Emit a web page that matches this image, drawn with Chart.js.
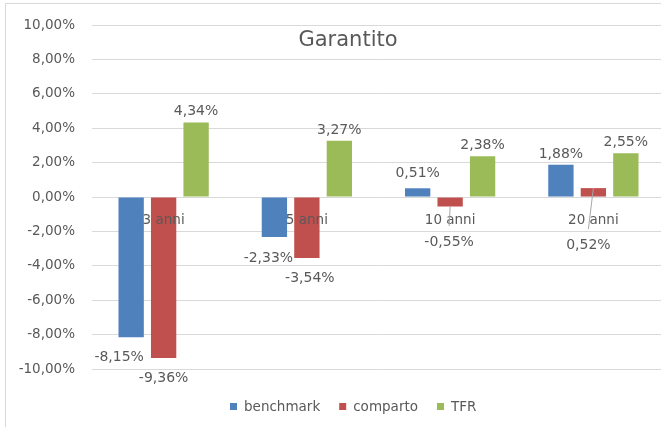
<!DOCTYPE html>
<html>
<head>
<meta charset="utf-8">
<script src="https://cdn.jsdelivr.net/npm/chart.js@4.4.1/dist/chart.umd.min.js"></script>
<style>
  html, body { margin: 0; padding: 0; background: #fff; overflow: hidden; }
  .wrap { position: relative; width: 661px; height: 427px; overflow: hidden; }
  .frame { position: absolute; left: 5px; top: 3px; width: 700px; height: 500px;
           border-left: 1px solid #d9d9d9; border-top: 1px solid #d9d9d9; }
  canvas { position: absolute; left: 0; top: 0; }
</style>
</head>
<body>
<div class="wrap">
  <div class="frame"></div>
  <canvas id="chart" width="665" height="427"></canvas>
</div>
<script>
const categories = ['3 anni', '5 anni', '10 anni', '20 anni'];
const benchmark = [-8.15, -2.33, 0.51, 1.88];
const comparto = [-9.36, -3.54, -0.55, 0.52];
const tfr = [4.34, 3.27, 2.38, 2.55];
const yTicks = [-10, -8, -6, -4, -2, 0, 2, 4, 6, 8, 10];

const seriesNames = ['benchmark', 'comparto', 'TFR'];
const seriesColors = ['#4f81bd', '#c0504d', '#9bbb59'];

const fmt = v => v.toFixed(2).replace('.', ',') + '%';
const FONT = '"DejaVu Sans", sans-serif';

// labels that were dragged around in the original sheet: [dataset][index] -> [dx, dy]
const labelShift = {
  0: { 0: [-12, 0], 1: [-6, 0.5], 2: [0, -4] },
  1: { 1: [3, 0], 2: [-1, 15.5], 3: [-5, 68] }
};
const leaders = { 1: [2, 3] };

const extras = {
  id: 'extras',
  afterDatasetsDraw(chart) {
    const ctx = chart.ctx;
    const xs = chart.scales.x;
    const ys = chart.scales.y;
    ctx.save();
    ctx.fillStyle = '#595959';

    // title
    ctx.textAlign = 'center';
    ctx.textBaseline = 'alphabetic';
    ctx.font = '21px ' + FONT;
    ctx.fillText('Garantito', 348, 46);

    // category names sit on the zero line
    ctx.font = '13.5px ' + FONT;
    categories.forEach((c, i) => {
      ctx.fillText(c, xs.getPixelForValue(i), ys.getPixelForValue(0) + 27);
    });

    // value labels
    ctx.font = '14px ' + FONT;
    chart.data.datasets.forEach((ds, di) => {
      chart.getDatasetMeta(di).data.forEach((bar, i) => {
        const v = ds.data[i];
        const sh = (labelShift[di] && labelShift[di][i]) || [0, 0];
        const lx = bar.x + sh[0];
        const ly = (v >= 0 ? bar.y - 7 : bar.y + 24) + sh[1];
        if (leaders[di] && leaders[di].includes(i)) {
          ctx.strokeStyle = '#a6a6a6';
          ctx.lineWidth = 1;
          ctx.beginPath();
          ctx.moveTo(bar.x, bar.y);
          ctx.lineTo(lx, ly - 20);
          ctx.stroke();
        }
        ctx.fillText(fmt(v), lx, ly);
      });
    });

    // legend
    ctx.font = '13.5px ' + FONT;
    ctx.textAlign = 'left';
    ctx.textBaseline = 'middle';
    let lx = 230;
    const ly = 407;
    seriesNames.forEach((name, i) => {
      ctx.fillStyle = seriesColors[i];
      ctx.fillRect(lx, ly - 4, 7, 7);
      ctx.fillStyle = '#595959';
      ctx.fillText(name, lx + 14, ly);
      lx += 14 + ctx.measureText(name).width + 19;
    });
    ctx.restore();
  }
};

new Chart(document.getElementById('chart'), {
  type: 'bar',
  data: {
    labels: categories,
    datasets: [
      { label: seriesNames[0], data: benchmark, backgroundColor: seriesColors[0] },
      { label: seriesNames[1], data: comparto, backgroundColor: seriesColors[1] },
      { label: seriesNames[2], data: tfr, backgroundColor: seriesColors[2] }
    ]
  },
  options: {
    responsive: false,
    animation: false,
    devicePixelRatio: 1,
    layout: { padding: { top: 23, bottom: 58, left: 0, right: 0 } },
    datasets: { bar: { categoryPercentage: 0.68, barPercentage: 0.78 } },
    plugins: { legend: { display: false }, tooltip: { enabled: false }, title: { display: false } },
    scales: {
      x: { display: false },
      y: {
        min: yTicks[0],
        max: yTicks[yTicks.length - 1],
        afterBuildTicks: s => { s.ticks = yTicks.map(v => ({ value: v })); },
        afterFit: s => { s.width = 92; },
        border: { display: false },
        grid: { color: '#d9d9d9', lineWidth: 1, drawTicks: false },
        ticks: {
          padding: 17,
          color: '#595959',
          font: { family: 'DejaVu Sans', size: 13.5 },
          callback: v => fmt(v)
        }
      }
    }
  },
  plugins: [extras]
});
</script>
</body>
</html>
